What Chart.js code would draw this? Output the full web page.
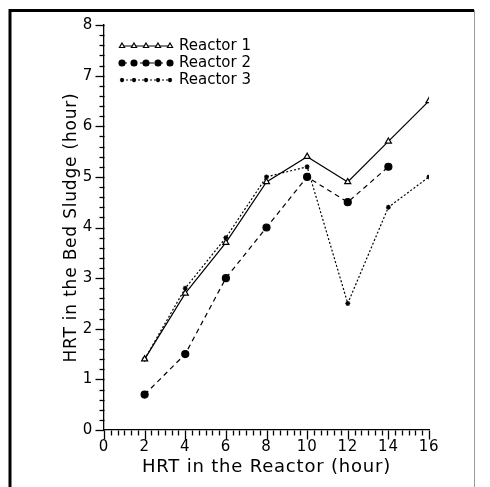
<!DOCTYPE html>
<html><head><meta charset="utf-8">
<script src="https://cdn.jsdelivr.net/npm/chart.js@4"></script>
<style>html,body{margin:0;padding:0;background:#fff}#wrap{width:490px;height:487px;position:relative}</style>
</head><body><div id="wrap"><canvas id="c" width="490" height="487"></canvas></div>
<script>
const hrtReactor = [2, 4, 6, 8, 10, 12, 14, 16];
const reactor1 = [1.4, 2.7, 3.7, 4.9, 5.4, 4.9, 5.7, 6.5];
const reactor2 = [0.7, 1.5, 3.0, 4.0, 5.0, 4.5, 5.2, null];
const reactor3 = [1.4, 2.8, 3.8, 5.0, 5.2, 2.5, 4.4, 5.0];
const seriesNames = ['Reactor 1', 'Reactor 2', 'Reactor 3'];
const xTickLabels = [0, 2, 4, 6, 8, 10, 12, 14, 16];
const yTickLabels = [0, 1, 2, 3, 4, 5, 6, 7, 8];

const FONT = 'DejaVu Sans';
function pts(vals){ return hrtReactor.map((x,i)=>({x, y: vals[i]})).filter(p=>p.y!==null); }

const styles = [
  {pointStyle:'triangle', radius:3.5, fill:'#fff', dash:[]},
  {pointStyle:'circle', radius:3.5, fill:'#000', dash:[5,4]},
  {pointStyle:'star', radius:2.5, fill:'#000', dash:[2,2]}
];

const datasets = [reactor1, reactor2, reactor3].map((v,i)=>({
  label: seriesNames[i], data: pts(v),
  borderColor:'#000', borderWidth:1.2, borderDash: styles[i].dash,
  pointStyle: styles[i].pointStyle, pointRadius: styles[i].radius,
  pointBackgroundColor: styles[i].fill, pointBorderColor:'#000', pointBorderWidth:1.2,
  tension:0, fill:false
}));

const decor = {
  id:'decor',
  beforeDraw(chart){ chart.ctx.letterSpacing = '0.8px'; },
  afterDraw(chart){
    const ctx = chart.ctx, xs = chart.scales.x, ys = chart.scales.y;
    ctx.save();
    ctx.letterSpacing = '0px';
    ctx.strokeStyle = '#000';
    // frame
    ctx.lineWidth = 3; ctx.beginPath(); ctx.moveTo(10,487); ctx.lineTo(10,10.5); ctx.lineTo(474,10.5); ctx.stroke();
    ctx.lineWidth = 1; ctx.strokeStyle='#999'; ctx.beginPath(); ctx.moveTo(474.5,10); ctx.lineTo(474.5,487); ctx.stroke();
    ctx.strokeStyle = '#000'; ctx.lineWidth = 1.3;
    // y ticks (major + minor)
    const x0 = Math.round(xs.getPixelForValue(0)) + 0.5;
    for (let k = 0; k <= 40; k++) {
      const v = k/5, p = Math.round(ys.getPixelForValue(v)) + 0.5;
      const len = (k % 5 === 0) ? 9 : 5;
      ctx.beginPath(); ctx.moveTo(x0, p); ctx.lineTo(x0 - len, p); ctx.stroke();
    }
    const y0 = Math.round(ys.getPixelForValue(0)) + 0.5;
    for (let k = 0; k <= 48; k++) {
      const v = k/3, p = Math.round(xs.getPixelForValue(v)) + 0.5;
      const len = (k % 6 === 0) ? 9 : 5;
      ctx.beginPath(); ctx.moveTo(p, y0); ctx.lineTo(p, y0 + len); ctx.stroke();
    }
    // legend
    ctx.font = '15px "' + FONT + '"'; ctx.textBaseline = 'middle'; ctx.fillStyle = '#000';
    datasets.forEach((d,i)=>{
      const y = 46 + i*17, xa = 122, xb = 170;
      ctx.setLineDash(d.borderDash); ctx.lineWidth = 1.2;
      ctx.beginPath(); ctx.moveTo(xa,y); ctx.lineTo(xb,y); ctx.stroke();
      ctx.setLineDash([]);
      for (let j=0;j<5;j++){
        const px = xa + j*(xb-xa)/4;
        ctx.fillStyle = d.pointBackgroundColor; ctx.strokeStyle='#000';
        Chart.helpers.drawPoint(ctx, {pointStyle:d.pointStyle, radius:d.pointRadius*0.85, borderWidth:1.1}, px, y);
      }
      ctx.fillStyle='#000';
      ctx.fillText(d.label, 179, y);
    });
    ctx.restore();
  }
};

new Chart(document.getElementById('c'), {
  type:'line',
  data:{datasets},
  plugins:[decor],
  options:{
    responsive:false, animation:false,
    layout:{padding:{top:25, right:61, left:61, bottom:9}},
    plugins:{legend:{display:false}, tooltip:{enabled:false}},
    scales:{
      x:{type:'linear', min:0, max:16,
        afterBuildTicks: s => { s.ticks = xTickLabels.map(v=>({value:v})); },
        afterFit: s => { s.height = 48; },
        grid:{display:false, drawTicks:false},
        border:{display:true, color:'#000', width:1.3},
        ticks:{padding:8, color:'#000', font:{family:FONT, size:15}},
        title:{display:true, text:'HRT in the Reactor (hour)', color:'#000', font:{family:FONT, size:18}, padding:{top:0,bottom:0}}
      },
      y:{type:'linear', min:0, max:8,
        afterBuildTicks: s => { s.ticks = yTickLabels.map(v=>({value:v})); },
        afterFit: s => { s.width = 43; },
        grid:{display:false, drawTicks:false},
        border:{display:true, color:'#000', width:1.3},
        ticks:{padding:11, color:'#000', font:{family:FONT, size:15}},
        title:{display:true, text:'HRT in the Bed Sludge (hour)', color:'#000', font:{family:FONT, size:17}, padding:{top:0,bottom:0}}
      }
    }
  }
});
</script></body></html>
